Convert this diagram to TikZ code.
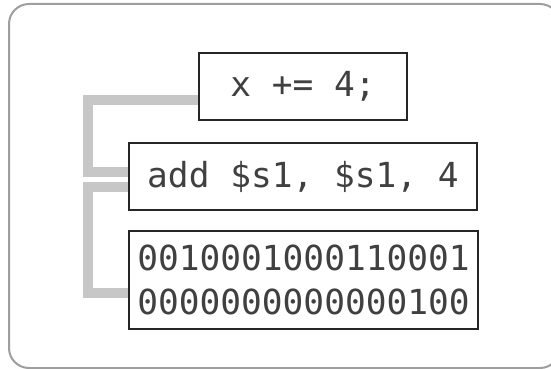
\documentclass[tikz,border=0pt]{standalone}
\usepackage{fontspec}
\usetikzlibrary{backgrounds}
\newfontfamily\codefont{DejaVu Sans Mono}
\begin{document}
\begin{tikzpicture}[x=1pt,y=-1pt,
  codebox/.style={draw=black!85, line width=2.2pt, fill=white, inner sep=0pt,
    text=black!75, font=\codefont\fontsize{34.5}{44}\selectfont, align=center},
  conn/.style={draw=black!22, line width=10pt, line join=miter}]
\useasboundingbox (0,0) rectangle (551,369);
% frame
\draw[black!38, line width=2pt, rounded corners=20pt] (9,4) rectangle (560,368);
% boxes
\node[codebox, minimum width=208pt, minimum height=67pt] (b1) at (303,86.5) {x += 4;};
\node[codebox, minimum width=348pt, minimum height=67pt] (b2) at (303,176.5) {add \$s1, \$s1, 4};
\node[codebox, minimum width=349pt, minimum height=98pt] (b3) at (303.5,280) {0010001000110001\\0000000000000100};
% links between the levels, behind the boxes
\coordinate (k1) at (88,0);
\begin{scope}[on background layer]
\path[conn] ([yshift=-13.5pt]b1.west) -| (k1 |- 0,172) -- ([yshift=4.5pt]b2.west);
\path[conn] ([yshift=-10.5pt]b2.west) -| (k1 |- 0,293) -- ([yshift=-13pt]b3.west);
\end{scope}
\end{tikzpicture}
\end{document}
